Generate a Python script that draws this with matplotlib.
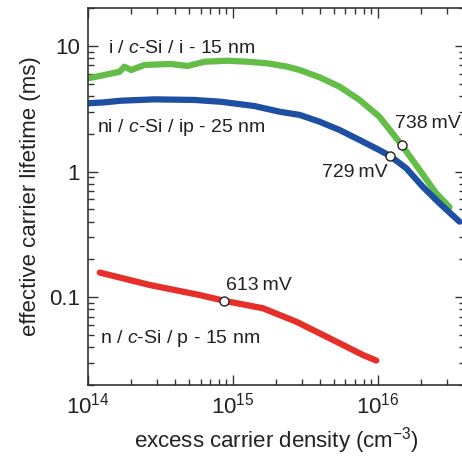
"""Effective carrier lifetime vs excess carrier density for three c-Si passivation stacks."""

import matplotlib

matplotlib.use("Agg")
import matplotlib.pyplot as plt
from matplotlib.ticker import FixedLocator, FixedFormatter, LogLocator, NullFormatter

plt.rcParams["font.family"] = ["Liberation Sans", "DejaVu Sans"]
plt.rcParams["mathtext.fontset"] = "custom"
plt.rcParams["mathtext.rm"] = "Liberation Sans"
plt.rcParams["mathtext.it"] = "Liberation Sans:italic"

# i / c-Si / i - 15 nm (green)
green_n = [1.00e14, 1.30e14, 1.66e14, 1.79e14, 1.99e14, 2.46e14, 3.73e14, 4.89e14,
           6.38e14, 9.24e14, 1.27e15, 1.74e15, 2.39e15, 2.90e15, 3.98e15, 5.47e15,
           7.52e15, 1.03e16, 1.47e16, 1.95e16, 2.54e16, 3.14e16]
green_tau = [5.51, 5.86, 6.22, 6.82, 6.42, 7.04, 7.17, 6.91,
             7.47, 7.61, 7.47, 7.26, 6.82, 6.42, 5.62, 4.73,
             3.71, 2.73, 1.62, 1.03, 0.671, 0.52]

# ni / c-Si / ip - 25 nm (blue)
blue_n = [1.00e14, 1.30e14, 1.70e14, 2.88e14, 5.44e14, 8.30e14, 1.41e15, 2.11e15,
          2.90e15, 3.98e15, 5.47e15, 7.52e15, 1.03e16, 1.22e16, 1.58e16, 2.05e16,
          2.68e16, 3.68e16]
blue_tau = [3.49, 3.55, 3.66, 3.75, 3.71, 3.59, 3.32, 2.99,
            2.82, 2.49, 2.14, 1.78, 1.48, 1.33, 1.06, 0.757,
            0.558, 0.399]

# n / c-Si / p - 15 nm (red)
red_n = [1.21e14, 2.68e14, 5.92e14, 8.71e14, 1.62e15, 2.75e15, 4.67e15, 7.92e15, 9.80e15]
red_tau = [0.157, 0.125, 0.104, 0.0937, 0.0816, 0.0638, 0.0471, 0.0347, 0.0313]

# Voc markers
voc_n = [8.71e14, 1.22e16, 1.47e16]
voc_tau = [0.0937, 1.33, 1.62]

fig = plt.figure(figsize=(4.62, 4.57), dpi=100)
ax = fig.add_axes([0.190, 0.1575, 0.816, 0.825])

ax.plot(green_n, green_tau, color="#64bd46", lw=4.5, solid_capstyle="round",
        solid_joinstyle="round")
ax.plot(blue_n, blue_tau, color="#1d4fa3", lw=4.5, solid_capstyle="round",
        solid_joinstyle="round")
ax.plot(red_n, red_tau, color="#e52f28", lw=4.5, solid_capstyle="round",
        solid_joinstyle="round")
ax.plot(voc_n, voc_tau, "o", ms=6.5, mfc="white", mec="#222222", mew=1.0, zorder=5)

ax.set_xscale("log")
ax.set_yscale("log")
ax.set_xlim(1e14, 4e16)
ax.set_ylim(0.02, 20)

txt = dict(fontsize=14, color="#222222", va="center")
ax.text(1.37e14, 9.6, "i / $c$-Si / i - 15 nm", **txt)
ax.text(1.15e14, 2.22, "ni / $c$-Si / ip - 25 nm", **txt)
ax.text(1.21e14, 0.0473, "n / $c$-Si / p - 15 nm", **txt)
ax.text(8.96e14, 0.125, "613\u2009mV", **txt)
ax.text(1.31e16, 2.43, "738\u2009mV", **txt)
ax.text(4.11e15, 0.99, "729\u2009mV", **txt)

ax.xaxis.set_major_locator(FixedLocator([1e14, 1e15, 1e16]))
ax.xaxis.set_major_formatter(FixedFormatter(["$10^{14}$", "$10^{15}$", "$10^{16}$"]))
ax.xaxis.set_minor_locator(LogLocator(base=10, subs=range(2, 10)))
ax.xaxis.set_minor_formatter(NullFormatter())
ax.yaxis.set_major_locator(FixedLocator([0.1, 1, 10]))
ax.yaxis.set_major_formatter(FixedFormatter(["0.1", "1", "10"]))
ax.yaxis.set_minor_locator(LogLocator(base=10, subs=range(2, 10)))
ax.yaxis.set_minor_formatter(NullFormatter())

ax.tick_params(which="both", direction="in", top=True, right=True, colors="#333333",
               labelcolor="#222222", labelsize=16, width=1.0)
ax.tick_params(which="major", length=7, pad=5.5)
ax.tick_params(which="minor", length=4)
for sp in ax.spines.values():
    sp.set_color("#333333")
    sp.set_linewidth(1.2)

ax.set_xlabel("excess carrier density (cm$^{-3}$)", fontsize=16, color="#222222", labelpad=5)
ax.set_ylabel("effective carrier lifetime (ms)", fontsize=16, color="#222222", labelpad=6)

fig.savefig("out.png", dpi=100)
